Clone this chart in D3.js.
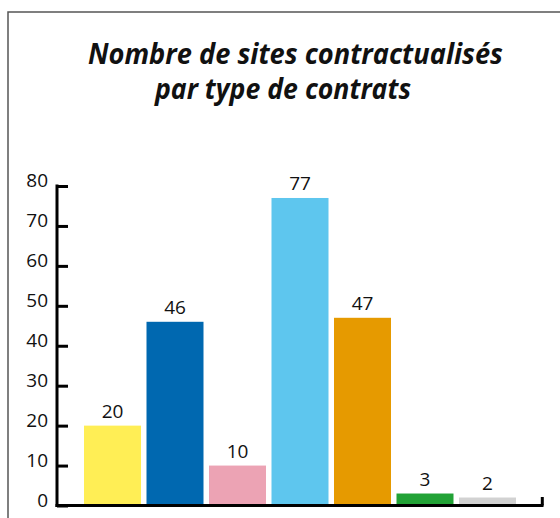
<!DOCTYPE html>
<html><head><meta charset="utf-8">
<script src="https://cdn.jsdelivr.net/npm/d3@7"></script>
<style>body{margin:0;background:#fff;}svg{display:block;}</style>
</head><body>
<svg id="chart" width="560" height="518"></svg>
<script>
const categories = ["Type 1","Type 2","Type 3","Type 4","Type 5","Type 6","Type 7"];
const values = [20, 46, 10, 77, 47, 3, 2];
const colors = ["#FFEE55","#0068B0","#ECA3B4","#5EC6EE","#E69A00","#22A236","#D2D2D2"];
const yTicks = [0,10,20,30,40,50,60,70,80];
const titleLines = ["Nombre de sites contractualisés","par type de contrats"];

const svg = d3.select("#chart");
const font = "'Open Sans', 'Noto Sans', sans-serif";

// frame
svg.append("rect").attr("x",8).attr("y",12).attr("width",600).attr("height",560)
  .attr("fill","none").attr("stroke","#555").attr("stroke-width",1.5);

// title
const titlePos = [{x:295.5,y:64,w:415},{x:283,y:99,w:256}];
titleLines.forEach((t,i)=>{
  svg.append("text").attr("x",titlePos[i].x).attr("y",titlePos[i].y)
    .attr("text-anchor","middle").attr("font-family",font).attr("font-weight",700)
    .attr("font-style","italic").attr("font-size",28).attr("fill","#111")
    .attr("textLength",titlePos[i].w).attr("lengthAdjust","spacingAndGlyphs")
    .text(t);
});

const x = d3.scaleBand().domain(categories).range([57,543]).paddingInner(0.088).paddingOuter(0.432);
const y = d3.scaleLinear().domain([0,80]).range([505.5,186]);

// bars
svg.append("g").selectAll("rect").data(values).join("rect")
  .attr("x",(d,i)=>x(categories[i])).attr("width",x.bandwidth())
  .attr("y",d=>y(d)).attr("height",d=>y(0)-y(d))
  .attr("fill",(d,i)=>colors[i]);

// value labels
svg.append("g").selectAll("text").data(values).join("text")
  .attr("x",(d,i)=>x(categories[i])+x.bandwidth()/2).attr("y",d=>y(d)-8)
  .attr("text-anchor","middle").attr("font-family",font).attr("font-size",19)
  .attr("fill","#111").text(d=>d);

// y axis
const yAxis = d3.axisRight(y).tickValues(yTicks).tickSize(11).tickFormat("");
const gy = svg.append("g").attr("transform","translate(57,0)").call(yAxis);
gy.select(".domain").remove();
gy.selectAll(".tick line").attr("stroke","#000").attr("stroke-width",3);
svg.append("line").attr("x1",57).attr("x2",57).attr("y1",y(80)-1.5).attr("y2",y(0)+1.5)
  .attr("stroke","#000").attr("stroke-width",3);
// y tick labels
svg.append("g").selectAll("text").data(yTicks).join("text")
  .attr("x",48).attr("y",d=>y(d)+1).attr("text-anchor","end")
  .attr("font-family",font).attr("font-size",19).attr("fill","#111").text(d=>d);

// x axis
svg.append("line").attr("x1",55.5).attr("x2",543.5).attr("y1",y(0)).attr("y2",y(0))
  .attr("stroke","#000").attr("stroke-width",3);
svg.append("line").attr("x1",542.3).attr("x2",542.3).attr("y1",497).attr("y2",y(0))
  .attr("stroke","#000").attr("stroke-width",3);
</script>
</body></html>
